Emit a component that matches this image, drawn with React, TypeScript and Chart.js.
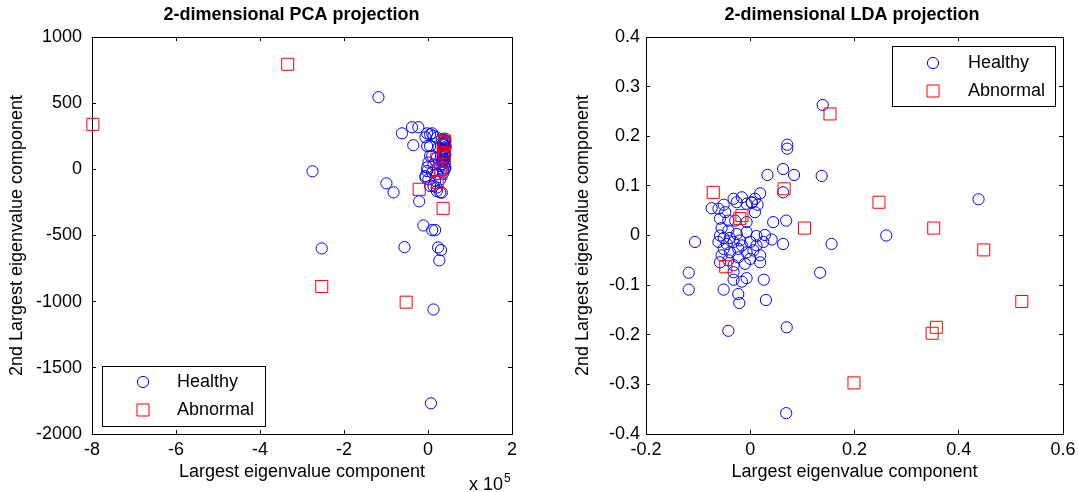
import React, { useEffect, useRef } from 'react';
import { Chart, registerables } from 'chart.js';

Chart.register(...registerables);

const FONT = "'Liberation Sans', Arial, Helvetica, sans-serif";

// ---------- PCA (x in units of 1e5) ----------
const pcaHealthyX = [
  -1.18, -0.62, -0.38, -0.23, -0.35, -0.02, 0.10, -0.06, -0.02, 0.05, -0.02, -0.06, 0.01, 0.13, 0.21, 0.29,
  -0.99, -0.82, -0.11, 0.10, 0.17, -0.56, 0.24, 0.31, 0.27, 0.13, 0.07, -2.75, -2.53, -0.21,
  0.05, 0.13, 0.21, 0.33, 0.41, 0.05, 0.25, 0.37, 0.10, 0.21, 0.37, 0.41, 0.01, 0.13, 0.29, 0.41,
  -0.02, 0.10, 0.21, 0.37, -0.06, 0.17, 0.29, 0.05, 0.21, 0.33, 0.38, 0.35, 0.40, 0.36, 0.39, 0.33,
  0.40, 0.38, 0.41, 0.36, 0.39, 0.42, 0.37, 0.40, 0.38, 0.41, 0.35, 0.39, 0.36, 0.40, 0.34, 0.38, 0.41, 0.37,
];
const pcaHealthyY = [
  545, 272, 318, 318, 182, 272, 272, 242, 176, 101, 15, -51, -76, -126, -164, -174,
  -106, -174, -424, -459, -459, -588, -590, -610, -688, -1059, -1768, -15, -598, -242,
  265, 252, 240, 227, 214, 176, 164, 151, 101, 88, 76, 113, 51, 38, 25, 13,
  -13, -25, -38, -25, -63, -88, -76, -126, -138, -176, 200, 190, 160, 140, 120, 60,
  232, 222, 208, 196, 184, 172, 146, 132, 118, 104, 92, 80, 66, 52, 40, 28, 6, -8,
];
const pcaAbnormalX = [-7.98, -3.34, -2.53, -0.52, -0.21, 0.36, 0.39, 0.39, 0.36, 0.39, 0.21, 0.29, 0.31, 0.22, 0.40];
const pcaAbnormalY = [340, 794, -885, -1004, -151, -295, 214, 182, 129, 98, 76, 0, -30, -98, 200];

// ---------- LDA ----------
const ldaHealthyX = [
  0.071, 0.071, 0.063, 0.033, 0.084, 0.137, 0.019, 0.009, 0.003, 0.063, -0.074, -0.061, -0.051, -0.032,
  -0.016, 0.003, 0.009, -0.048, 0.044, 0.069, -0.106, -0.055, -0.042, -0.051, -0.039, -0.026, -0.020,
  -0.007, 0.012, 0.028, 0.041, 0.063, 0.156, -0.051, -0.039, -0.023, -0.007, 0.006, 0.019, 0.019,
  -0.010, -0.032, -0.055, -0.118, -0.118, 0.134, -0.032, -0.016, -0.007, 0.026, -0.051, -0.023, -0.021,
  0.030, -0.042, 0.070, 0.139, 0.438, 0.261, 0.069, -0.058, -0.061, -0.045, -0.032, -0.016, 0.000,
  0.012, 0.025, -0.007, -0.029, -0.042, -0.058, 0.014, -0.007, -0.026, -0.058, -0.042, 0.000, -0.023,
  -0.032,
];
const ldaHealthyY = [
  0.183, 0.175, 0.134, 0.122, 0.122, 0.120, 0.085, 0.074, 0.066, 0.087, 0.055, 0.054, 0.062, 0.074,
  0.077, 0.067, 0.047, 0.047, 0.027, 0.030, -0.013, 0.015, 0.010, -0.005, -0.005, 0.003, -0.010,
  0.007, -0.001, 0.001, -0.008, -0.017, -0.017, -0.027, -0.034, -0.027, -0.034, -0.030, -0.040, -0.054,
  -0.057, -0.060, -0.040, -0.075, -0.109, -0.075, -0.089, -0.093, -0.086, -0.089, -0.109, -0.118, -0.136,
  -0.130, -0.192, -0.185, 0.263, 0.073, 0.000, -0.358, 0.000, -0.013, -0.017, -0.013, -0.020, -0.013,
  -0.020, -0.013, 0.027, 0.030, 0.030, 0.034, 0.062, 0.064, 0.067, -0.054, -0.050, -0.047, -0.044,
  -0.074,
];
const ldaAbnormalX = [-0.071, 0.065, -0.016, -0.020, 0.104, -0.047, 0.153, 0.247, 0.352, 0.448, 0.521, 0.357, 0.349, 0.199];
const ldaAbnormalY = [0.087, 0.094, 0.040, 0.034, 0.015, -0.063, 0.245, 0.067, 0.015, -0.029, -0.133, -0.185, -0.197, -0.297];

const seriesNames = ['Healthy', 'Abnormal'];
const pcaXTicks = { min: -8, max: 2, step: 2 };
const pcaYTicks = { min: -2000, max: 1000, step: 500 };
const ldaXTicks = { min: -0.2, max: 0.6, step: 0.2 };
const ldaYTicks = { min: -0.4, max: 0.4, step: 0.1 };

const toPoints = (xs: number[], ys: number[]) => xs.map((x, i) => ({ x, y: ys[i] }));
const fmt = (v: any) => String(Math.round(Number(v) * 1000) / 1000);

const extrasPlugin = {
  id: 'matlabExtras',
  afterDraw(chart: any, _args: any, opts: any) {
    const ctx = chart.ctx;
    const lg = opts.legend;
    if (lg) {
      ctx.save();
      ctx.fillStyle = '#fff';
      ctx.fillRect(lg.x, lg.y, lg.w, lg.h);
      ctx.strokeStyle = '#000';
      ctx.lineWidth = 1;
      ctx.strokeRect(lg.x + 0.5, lg.y + 0.5, lg.w, lg.h);
      chart.data.datasets.forEach((ds: any, i: number) => {
        const cy = lg.rowY[i];
        ctx.strokeStyle = ds.pointBorderColor;
        ctx.lineWidth = 1;
        ctx.beginPath();
        if (ds.pointStyle === 'circle') {
          ctx.arc(lg.markerX, cy, ds.pointRadius, 0, Math.PI * 2);
        } else {
          const s = ds.pointRadius * Math.SQRT1_2;
          ctx.rect(lg.markerX - s, cy - s, 2 * s, 2 * s);
        }
        ctx.stroke();
        ctx.fillStyle = '#000';
        ctx.font = `18px ${FONT}`;
        ctx.textBaseline = 'middle';
        ctx.textAlign = 'left';
        ctx.fillText(ds.label, lg.textX, cy);
      });
      ctx.restore();
    }
    const ex = opts.exponent;
    if (ex) {
      ctx.save();
      ctx.fillStyle = '#000';
      ctx.textBaseline = 'alphabetic';
      ctx.textAlign = 'left';
      ctx.font = `18px ${FONT}`;
      ctx.fillText('x 10', ex.x, ex.y);
      const w = ctx.measureText('x 10').width;
      ctx.font = `12px ${FONT}`;
      ctx.fillText('5', ex.x + w + 1, ex.y - 8);
      ctx.restore();
    }
  },
};

function makeConfig(p: any) {
  const tickFont = { family: FONT, size: 18 };
  const gridOpts = { drawOnChartArea: false, drawTicks: true, tickLength: -4, color: '#000', lineWidth: 1 };
  const borderOpts = { display: true, color: '#000', width: 1 };
  return {
    type: 'scatter',
    data: {
      datasets: [
        {
          label: seriesNames[0],
          data: toPoints(p.hx, p.hy),
          pointStyle: 'circle',
          pointRadius: 5.6,
          pointBorderWidth: 1,
          pointBorderColor: 'rgb(0,0,255)',
          pointBackgroundColor: 'rgba(0,0,0,0)',
          borderColor: 'rgb(0,0,255)',
          backgroundColor: 'rgba(0,0,0,0)',
          clip: false,
          order: 1,
        },
        {
          label: seriesNames[1],
          data: toPoints(p.ax, p.ay),
          pointStyle: 'rect',
          pointRadius: 8.5,
          pointBorderWidth: 1,
          pointBorderColor: 'rgb(255,0,0)',
          pointBackgroundColor: 'rgba(0,0,0,0)',
          borderColor: 'rgb(255,0,0)',
          backgroundColor: 'rgba(0,0,0,0)',
          clip: false,
          order: 0,
        },
      ],
    },
    options: {
      responsive: false,
      animation: false,
      events: [],
      layout: { padding: 0 },
      plugins: {
        legend: { display: false },
        tooltip: { enabled: false },
        title: {
          display: true,
          text: p.title,
          color: '#000',
          font: { family: FONT, size: 18, weight: 'bold' },
          padding: { top: 4, bottom: 11.4 },
        },
        matlabExtras: { legend: p.legend, exponent: p.exponent },
      },
      scales: {
        x: {
          type: 'linear',
          position: 'bottom',
          min: p.xt.min,
          max: p.xt.max,
          ticks: { stepSize: p.xt.step, autoSkip: false, maxRotation: 0, padding: 9, color: '#000', font: tickFont, callback: fmt },
          grid: gridOpts,
          border: borderOpts,
          title: { display: true, text: 'Largest eigenvalue component', color: '#000', font: tickFont, padding: { top: 0, bottom: 9.4 } },
          afterFit: (s: any) => { s.height = 58; },
        },
        x2: {
          type: 'linear',
          position: 'top',
          min: p.xt.min,
          max: p.xt.max,
          ticks: { stepSize: p.xt.step, display: false },
          grid: gridOpts,
          border: borderOpts,
          afterFit: (s: any) => { s.height = 0; },
        },
        y: {
          type: 'linear',
          position: 'left',
          min: p.yt.min,
          max: p.yt.max,
          ticks: { stepSize: p.yt.step, autoSkip: false, padding: p.yPad, color: '#000', font: tickFont, callback: fmt },
          grid: gridOpts,
          border: borderOpts,
          title: { display: true, text: '2nd Largest eigenvalue component', color: '#000', font: tickFont, padding: { top: p.yTitlePad, bottom: 0 } },
          afterFit: (s: any) => { s.width = p.yWidth; },
        },
        y2: {
          type: 'linear',
          position: 'right',
          min: p.yt.min,
          max: p.yt.max,
          ticks: { stepSize: p.yt.step, display: false },
          grid: gridOpts,
          border: borderOpts,
          afterFit: (s: any) => { s.width = p.y2Width; },
        },
      },
    },
    plugins: [extrasPlugin],
  };
}

function ChartCanvas(props: { cfg: any; left: number; width: number }) {
  const ref = useRef<HTMLCanvasElement | null>(null);
  useEffect(() => {
    if (!ref.current) return;
    const chart = new Chart(ref.current, props.cfg);
    return () => chart.destroy();
  }, []);
  return (
    <canvas
      ref={ref}
      width={props.width}
      height={492}
      style={{ position: 'absolute', left: props.left, top: 0, width: props.width, height: 492 }}
    />
  );
}

export default function App() {
  const pcaCfg = makeConfig({
    title: '2-dimensional PCA projection',
    hx: pcaHealthyX, hy: pcaHealthyY, ax: pcaAbnormalX, ay: pcaAbnormalY,
    xt: pcaXTicks, yt: pcaYTicks,
    yWidth: 92, y2Width: 71, yPad: 14, yTitlePad: 6,
    legend: { x: 102, y: 366, w: 163, h: 60, markerX: 143, textX: 177, rowY: [382, 410] },
    exponent: { x: 469, y: 490 },
  });
  const ldaCfg = makeConfig({
    title: '2-dimensional LDA projection',
    hx: ldaHealthyX, hy: ldaHealthyY, ax: ldaAbnormalX, ay: ldaAbnormalY,
    xt: ldaXTicks, yt: ldaYTicks,
    yWidth: 106, y2Width: 101, yPad: 10, yTitlePad: 32.5,
    legend: { x: 352, y: 46, w: 163, h: 60, markerX: 393, textX: 428, rowY: [63, 91] },
    exponent: null,
  });
  return (
    <div style={{ position: 'fixed', left: 0, top: 0, width: 1078, height: 492, overflow: 'hidden', background: '#fff' }}>
      <ChartCanvas cfg={pcaCfg} left={0} width={583} />
      <ChartCanvas cfg={ldaCfg} left={540} width={624} />
    </div>
  );
}
